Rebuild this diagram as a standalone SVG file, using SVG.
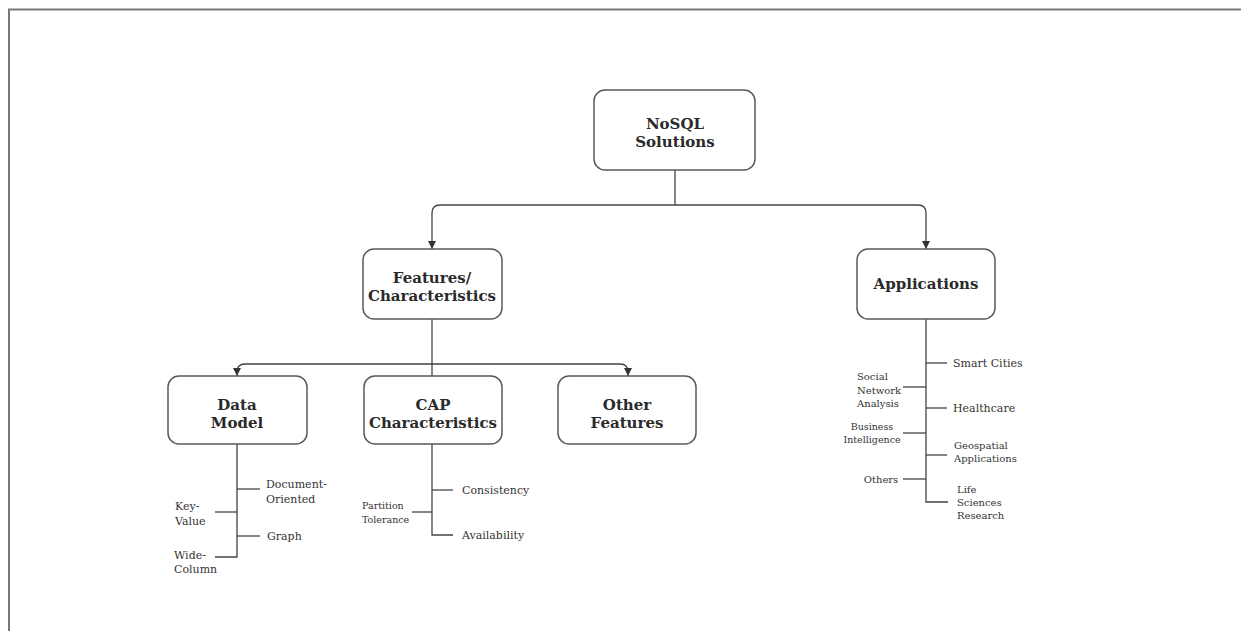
<svg xmlns="http://www.w3.org/2000/svg" width="1241" height="631" viewBox="0 0 1241 631">
<defs>
<style>
.node rect{fill:#fff;stroke:#5a5a5a;stroke-width:1.5}
.nt{font-family:"DejaVu Serif","Liberation Serif",serif;font-weight:bold;font-size:15px;fill:#2a2a2a;text-anchor:middle}
.lbl{font-family:"DejaVu Serif","Liberation Serif",serif;font-size:11px;fill:#333}
.sm{font-size:10px}
.xs{font-size:9.5px}
.c{text-anchor:middle}
#connectors path{fill:none;stroke:#444;stroke-width:1.3}
</style>
<marker id="arr" viewBox="0 0 10 10" refX="10" refY="5" markerWidth="8" markerHeight="8" markerUnits="userSpaceOnUse" orient="auto">
<path d="M0,0 L10,5 L0,10 Z" fill="#333"/>
</marker>
</defs>
<rect width="1241" height="631" fill="#fff"/>
<path d="M9,631 V9.5 H1241" fill="none" stroke="#777" stroke-width="2"/>

<g id="connectors">
<path d="M675,170 V205"/>
<path d="M675,205 H440 Q432,205 432,213 V249" marker-end="url(#arr)"/>
<path d="M675,205 H918 Q926,205 926,213 V249" marker-end="url(#arr)"/>
<path d="M432,319 V376"/>
<path d="M432,364 H245 Q237,364 237,372 V376" marker-end="url(#arr)"/>
<path d="M432,364 H620 Q628,364 628,372 V376" marker-end="url(#arr)"/>
<path d="M237,444 V557 H215"/>
<path d="M237,489 H260"/>
<path d="M237,512 H215"/>
<path d="M237,536 H260"/>
<path d="M432,444 V535 H453"/>
<path d="M432,490 H453"/>
<path d="M432,512 H412"/>
<path d="M926,319 V502 H948"/>
<path d="M926,363 H947"/>
<path d="M926,387 H903"/>
<path d="M926,408 H947"/>
<path d="M926,433 H903"/>
<path d="M926,455 H947"/>
<path d="M926,479 H903"/>
</g>

<g id="node-nosql" class="node">
<rect x="594" y="90" width="161" height="80" rx="11"/>
<text class="nt" x="675" y="129">NoSQL</text>
<text class="nt" x="675" y="147">Solutions</text>
</g>
<g id="node-features" class="node">
<rect x="363" y="249" width="139" height="70" rx="11"/>
<text class="nt" x="432" y="283">Features/</text>
<text class="nt" x="432" y="301">Characteristics</text>
</g>
<g id="node-applications" class="node">
<rect x="857" y="249" width="138" height="70" rx="11"/>
<text class="nt" x="926" y="289">Applications</text>
</g>
<g id="node-datamodel" class="node">
<rect x="168" y="376" width="139" height="68" rx="11"/>
<text class="nt" x="237" y="410">Data</text>
<text class="nt" x="237" y="428">Model</text>
</g>
<g id="node-cap" class="node">
<rect x="364" y="376" width="138" height="68" rx="11"/>
<text class="nt" x="433" y="410">CAP</text>
<text class="nt" x="433" y="428">Characteristics</text>
</g>
<g id="node-other" class="node">
<rect x="558" y="376" width="138" height="68" rx="11"/>
<text class="nt" x="627" y="410">Other</text>
<text class="nt" x="627" y="428">Features</text>
</g>

<g id="labels-datamodel">
<text class="lbl" x="266" y="488">Document-</text>
<text class="lbl" x="266" y="503">Oriented</text>
<text class="lbl" x="175" y="510">Key-</text>
<text class="lbl" x="175" y="525">Value</text>
<text class="lbl" x="267" y="540">Graph</text>
<text class="lbl" x="174" y="559">Wide-</text>
<text class="lbl" x="174" y="573">Column</text>
</g>
<g id="labels-cap">
<text class="lbl" x="462" y="494">Consistency</text>
<text class="lbl xs" x="362" y="509">Partition</text>
<text class="lbl xs" x="362" y="523">Tolerance</text>
<text class="lbl" x="462" y="539">Availability</text>
</g>
<g id="labels-applications">
<text class="lbl" x="953" y="367">Smart Cities</text>
<text class="lbl sm" x="857" y="380">Social</text>
<text class="lbl sm" x="857" y="394">Network</text>
<text class="lbl sm" x="857" y="407">Analysis</text>
<text class="lbl" x="953" y="412">Healthcare</text>
<text class="lbl xs c" x="872" y="430">Business</text>
<text class="lbl xs c" x="872" y="443">Intelligence</text>
<text class="lbl sm" x="954" y="449">Geospatial</text>
<text class="lbl sm" x="954" y="462">Applications</text>
<text class="lbl sm c" x="881" y="483">Others</text>
<text class="lbl sm" x="957" y="493">Life</text>
<text class="lbl sm" x="957" y="506">Sciences</text>
<text class="lbl sm" x="957" y="519">Research</text>
</g>
</svg>
